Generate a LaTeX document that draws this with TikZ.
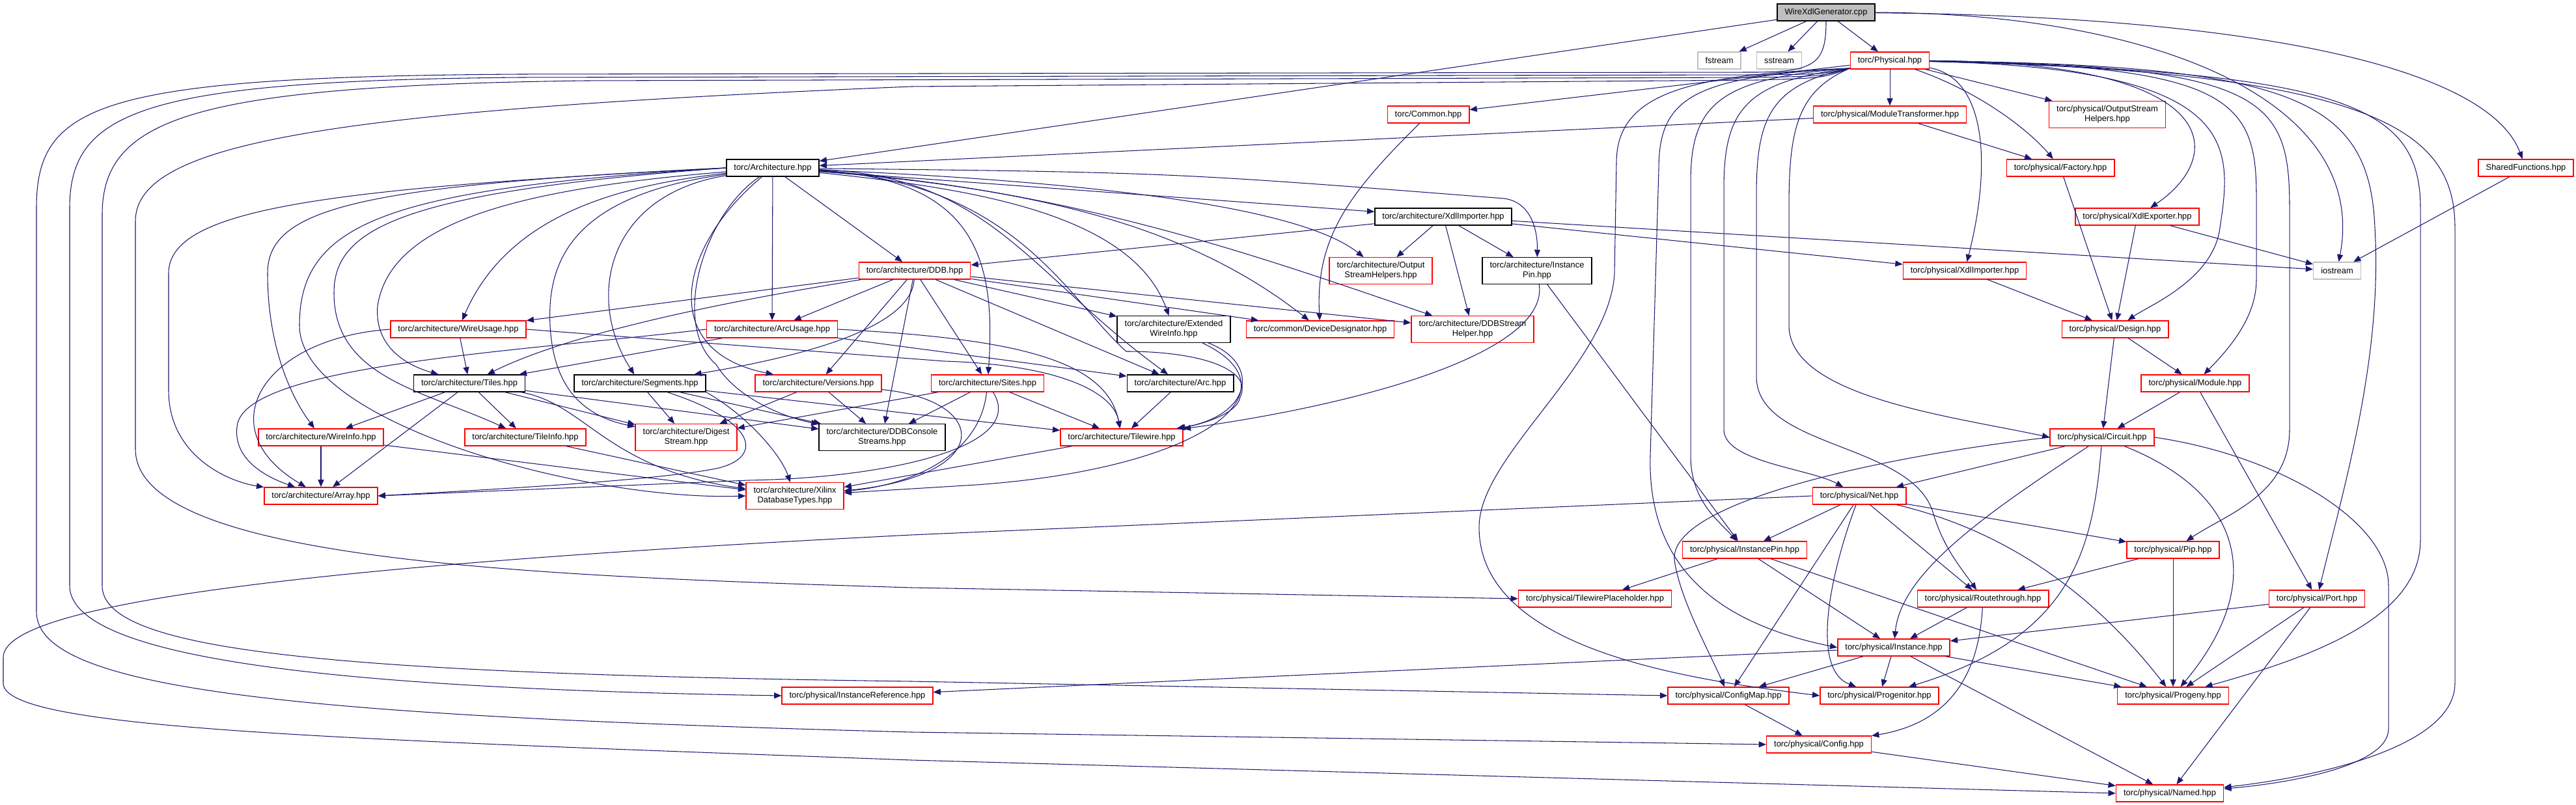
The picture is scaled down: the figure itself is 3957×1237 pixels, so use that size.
\documentclass[tikz,border=0pt]{standalone}
\usepackage{fontspec}
\setmainfont{Liberation Sans}
\usetikzlibrary{arrows.meta}
\definecolor{edgeblue}{RGB}{25,25,112}
\definecolor{rootgray}{RGB}{191,191,191}
\definecolor{sysgray}{RGB}{191,191,191}

\begin{document}
\begin{tikzpicture}[x=0.01cm, y=-0.01cm,
      nd/.style={draw, line width=0.4pt, fill=white, align=center,
        font=\fontsize{3.67pt}{4.3pt}\selectfont,
        inner xsep=0.115cm, inner ysep=1.9pt, minimum height=0.26cm},
      ndred/.style={nd, draw=red},
      ndblk/.style={nd, draw=black},
      ndsys/.style={nd, draw=sysgray},
      arr/.style={-{Triangle[length=3.2pt,width=2.6pt]}, draw=edgeblue, line width=0.3pt}
    ]
      \useasboundingbox (0,0) rectangle (3957,1237);
      % top row
      \node[ndblk, fill=rootgray] (wxg) at (2805,19) {WireXdlGenerator.cpp};
      \node[ndsys] (fstream) at (2641,93) {fstream};
      \node[ndsys] (sstream) at (2733,93) {sstream};
      \node[ndred] (phys) at (2903,93) {torc/Physical.hpp};
      \node[ndred] (common) at (2194,176) {torc/Common.hpp};
      \node[ndred] (modtr) at (2903,176) {torc/physical/ModuleTransformer.hpp};
      \node[ndred] (outhP) at (3237,176) {torc/physical/OutputStream\\Helpers.hpp};
      \node[ndblk] (arch) at (1187,258) {torc/Architecture.hpp};
      \node[ndred] (factory) at (3165,258) {torc/physical/Factory.hpp};
      \node[ndred] (sharedf) at (3880,258) {SharedFunctions.hpp};
      \node[ndblk] (xdlimpA) at (2217,333) {torc/architecture/XdlImporter.hpp};
      \node[ndred] (xdlexp) at (3283,333) {torc/physical/XdlExporter.hpp};
      \node[ndred] (ddb) at (1405,416) {torc/architecture/DDB.hpp};
      \node[ndred] (outhA) at (2121,416) {torc/architecture/Output\\StreamHelpers.hpp};
      \node[ndblk] (instpinA) at (2361,416) {torc/architecture/Instance\\Pin.hpp};
      \node[ndred] (xdlimpP) at (3018,416) {torc/physical/XdlImporter.hpp};
      \node[ndsys] (iostream) at (3590,416) {iostream};
      % architecture side
      \node[ndred] (wireusage) at (704,506) {torc/architecture/WireUsage.hpp};
      \node[ndred] (arcusage) at (1186,506) {torc/architecture/ArcUsage.hpp};
      \node[ndblk] (extwi) at (1803,506) {torc/architecture/Extended\\WireInfo.hpp};
      \node[ndred] (devdes) at (2028,506) {torc/common/DeviceDesignator.hpp};
      \node[ndred] (ddbsh) at (2262,506) {torc/architecture/DDBStream\\Helper.hpp};
      \node[ndblk] (tiles) at (721,589) {torc/architecture/Tiles.hpp};
      \node[ndblk] (segments) at (983,589) {torc/architecture/Segments.hpp};
      \node[ndred] (versions) at (1257,589) {torc/architecture/Versions.hpp};
      \node[ndred] (sites) at (1517,589) {torc/architecture/Sites.hpp};
      \node[ndblk] (arc) at (1813,589) {torc/architecture/Arc.hpp};
      \node[ndred] (wireinfo) at (493,672) {torc/architecture/WireInfo.hpp};
      \node[ndred] (tileinfo) at (807,672) {torc/architecture/TileInfo.hpp};
      \node[ndred] (digest) at (1054,672) {torc/architecture/Digest\\Stream.hpp};
      \node[ndblk] (ddbcs) at (1355,672) {torc/architecture/DDBConsole\\Streams.hpp};
      \node[ndred] (tilewire) at (1723,672) {torc/architecture/Tilewire.hpp};
      \node[ndred] (array) at (493,762) {torc/architecture/Array.hpp};
      \node[ndred] (xilinx) at (1221,762) {torc/architecture/Xilinx\\DatabaseTypes.hpp};
      % physical side
      \node[ndred] (design) at (3249,506) {torc/physical/Design.hpp};
      \node[ndred] (module) at (3372,589) {torc/physical/Module.hpp};
      \node[ndred] (circuit) at (3229,672) {torc/physical/Circuit.hpp};
      \node[ndred] (net) at (2856,762) {torc/physical/Net.hpp};
      \node[ndred] (instpin) at (2680,845) {torc/physical/InstancePin.hpp};
      \node[ndred] (pip) at (3338,845) {torc/physical/Pip.hpp};
      \node[ndred] (twph) at (2450,920) {torc/physical/TilewirePlaceholder.hpp};
      \node[ndred] (routeth) at (3046,920) {torc/physical/Routethrough.hpp};
      \node[ndred] (port) at (3559,920) {torc/physical/Port.hpp};
      \node[ndred] (instance) at (2909,995) {torc/physical/Instance.hpp};
      \node[ndred] (instref) at (1317,1069) {torc/physical/InstanceReference.hpp};
      \node[ndred] (configmap) at (2655,1069) {torc/physical/ConfigMap.hpp};
      \node[ndred] (progenitor) at (2887,1069) {torc/physical/Progenitor.hpp};
      \node[ndred] (progeny) at (3338,1069) {torc/physical/Progeny.hpp};
      \node[ndred] (config) at (2794,1144) {torc/physical/Config.hpp};
      \node[ndred] (named) at (3333,1219) {torc/physical/Named.hpp};
      \coordinate (pw) at ([yshift=0.5pt]phys.south west);

      % WireXdlGenerator.cpp
      \draw[arr] (wxg) -- (arch);
      \draw[arr] (wxg) -- (fstream);
      \draw[arr] (wxg) -- (sstream);
      \draw[arr] (wxg) -- (phys);
      \draw[arr] (wxg) .. controls (3300,20) and (3640,150) .. (iostream);
      \draw[arr] (wxg) .. controls (3450,25) and (3820,100) .. (sharedf);
      \draw[arr] (wxg.south) .. controls (2805,95) and (2790,110) .. (2700,111) -- (800,114)
        .. controls (150,118) and (56,160) .. (56,320) -- (56,940)
        .. controls (56,1060) and (450,1100) .. (1400,1125) -- (config.west);

      % torc/Physical.hpp
      \draw[arr] (phys) -- (common);
      \draw[arr] (phys) -- (modtr);
      \draw[arr] (phys) -- (outhP);
      \draw[arr] (phys) .. controls (3057,147) and (3128,213) .. (factory);
      \draw[arr] (phys) .. controls (3050,120) and (3060,250) .. (xdlimpP);
      \draw[arr] (phys) .. controls (3420,95) and (3420,240) .. (xdlexp);
      \draw[arr] (phys) .. controls (3440,105) and (3430,220) .. (3410,350)
        .. controls (3400,430) and (3300,470) .. (design);
      \draw[arr] (phys) .. controls (3420,100) and (3466,150) .. (3466,300) -- (3466,430)
        .. controls (3466,490) and (3420,540) .. (module);
      \draw[arr] (phys) .. controls (3480,100) and (3517,150) .. (3517,320) -- (3517,660)
        .. controls (3517,760) and (3420,790) .. (pip);
      \draw[arr] (phys) .. controls (3520,100) and (3640,150) .. (3648,350)
        .. controls (3660,550) and (3600,750) .. (port);
      \draw[arr] (phys) .. controls (3600,110) and (3718,160) .. (3718,320) -- (3718,830)
        .. controls (3718,950) and (3550,1010) .. (progeny);
      \draw[arr] (phys) .. controls (3650,110) and (3771,200) .. (3771,350) -- (3771,1050)
        .. controls (3771,1150) and (3550,1195) .. (named);
      \draw[arr] (pw) .. controls (2600,115) and (2483,140) .. (2483,250) -- (2480,420)
        .. controls (2472,560) and (2272,700) .. (2272,810)
        .. controls (2272,1000) and (2600,1045) .. (progenitor.west);
      \draw[arr] (pw) .. controls (2600,118) and (2548,150) .. (2548,260) -- (2535,700)
        .. controls (2530,880) and (2650,960) .. (instance.west);
      \draw[arr] (pw) .. controls (2640,120) and (2597,160) .. (2597,280) -- (2597,700)
        .. controls (2597,770) and (2640,800) .. (instpin);
      \draw[arr] (pw) .. controls (2680,125) and (2648,170) .. (2648,290) -- (2648,660)
        .. controls (2648,710) and (2780,720) .. (net);
      \draw[arr] (pw) .. controls (2720,130) and (2698,180) .. (2698,300) -- (2698,580)
        .. controls (2700,690) and (2940,680) .. (2970,790)
        .. controls (2985,840) and (3010,870) .. (routeth);
      \draw[arr] (pw) .. controls (2760,140) and (2748,200) .. (2748,320) -- (2748,500)
        .. controls (2748,610) and (3000,640) .. (circuit.west);
      \draw[arr] (pw) .. controls (2800,114) .. (2700,115) -- (800,119)
        .. controls (220,124) and (107,170) .. (107,320) -- (107,900)
        .. controls (107,1010) and (500,1058) .. (instref.west);
      \draw[arr] (pw) .. controls (2800,117) .. (2700,119) -- (900,124)
        .. controls (300,132) and (157,180) .. (157,330) -- (157,900)
        .. controls (157,1000) and (500,1035) .. (1400,1047) -- (configmap.west);
      \draw[arr] (pw) .. controls (2800,120) .. (2700,123) -- (1400,133)
        .. controls (500,170) and (208,220) .. (208,340) -- (208,690)
        .. controls (208,860) and (800,885) .. (1400,903) -- (twph.west);

      % torc/Architecture.hpp
      \draw[arr] (arch) -- (ddb);
      \draw[arr] (arch) -- (xdlimpA);
      \draw[arr] (arch) -- (arcusage);
      \draw[arr] (arch) .. controls (1700,280) and (2000,320) .. (outhA);
      \draw[arr] (arch) .. controls (1800,265) .. (2310,305)
        .. controls (2350,310) and (2362,350) .. (instpinA);
      \draw[arr] (arch) .. controls (1600,290) and (1830,350) .. (devdes);
      \draw[arr] (arch) .. controls (1650,290) and (1950,400) .. (ddbsh);
      \draw[arr] (arch) .. controls (1500,290) and (1740,330) .. (extwi);
      \draw[arr] (arch) .. controls (1500,275) and (1530,400) .. (sites);
      \draw[arr] (arch) .. controls (1520,270) and (1580,420) .. (arc);
      \draw[arr] (arch) .. controls (1560,280) and (1640,460) .. (1730,540)
        .. controls (1850,540) and (1925,570) .. (1905,610)
        .. controls (1900,640) and (1830,655) .. (tilewire);
      \draw[arr] (arch) .. controls (950,285) and (780,330) .. (wireusage);
      \draw[arr] (arch) .. controls (800,290) and (600,340) .. (580,470)
        .. controls (575,530) and (620,560) .. (tiles);
      \draw[arr] (arch) .. controls (930,300) and (900,460) .. (segments);
      \draw[arr] (arch) .. controls (1040,380) and (1010,540) .. (versions);
      \draw[arr] (arch) .. controls (880,300) and (840,400) .. (845,500)
        .. controls (850,600) and (900,640) .. (digest);
      \draw[arr] (arch) .. controls (1080,330) and (1030,500) .. (1100,560)
        .. controls (1130,610) and (1200,640) .. (ddbcs);
      \draw[arr] (arch.west) .. controls (600,290) and (460,340) .. (460,500)
        .. controls (460,650) and (900,770) .. (xilinx.west);
      \draw[arr] (arch.west) .. controls (500,290) and (259,320) .. (259,420) -- (259,600)
        .. controls (259,700) and (350,740) .. (array);
      \draw[arr] (arch.west) .. controls (550,285) and (411,320) .. (411,420)
        .. controls (411,520) and (440,600) .. (wireinfo);
      \draw[arr] (arch.west) .. controls (620,295) and (513,350) .. (513,450)
        .. controls (513,580) and (650,600) .. (tileinfo);

      % torc/architecture
      \draw[arr] (xdlimpA) -- (ddb);
      \draw[arr] (xdlimpA) -- (outhA);
      \draw[arr] (xdlimpA) -- (instpinA);
      \draw[arr] (xdlimpA) -- (ddbsh);
      \draw[arr] (xdlimpA) -- (xdlimpP);
      \draw[arr] (xdlimpA) -- (iostream);
      \draw[arr] (instpinA) .. controls (2380,540) and (2100,620) .. (tilewire);
      \draw[arr] (instpinA) -- (instpin);
      \draw[arr] (common) .. controls (2080,290) and (2020,360) .. (devdes);
      \draw[arr] (ddb) -- (wireusage);
      \draw[arr] (ddb) -- (arcusage);
      \draw[arr] (ddb) .. controls (1200,450) and (900,500) .. (tiles);
      \draw[arr] (ddb) -- (versions);
      \draw[arr] (ddb) .. controls (1400,500) and (1250,545) .. (segments);
      \draw[arr] (ddb) -- (ddbcs);
      \draw[arr] (ddb) -- (sites);
      \draw[arr] (ddb) -- (arc);
      \draw[arr] (ddb) -- (extwi);
      \draw[arr] (ddb) -- (ddbsh);
      \draw[arr] (ddb) -- (devdes);
      \draw[arr] (wireusage) -- (tiles);
      \draw[arr] (wireusage.west) .. controls (400,520) and (320,660) .. (array);
      \draw[arr] (wireusage.east) -- (1450,555) .. controls (1620,560) and (1710,600) .. (tilewire);
      \draw[arr] (arcusage) -- (tiles);
      \draw[arr] (arcusage.west) .. controls (800,540) and (390,560) .. (365,650)
        .. controls (355,700) and (400,730) .. (array);
      \draw[arr] (arcusage) -- (arc);
      \draw[arr] (arcusage.east) .. controls (1550,520) and (1700,550) .. (tilewire);
      \draw[arr] (tiles) -- (wireinfo);
      \draw[arr] (tiles) -- (tileinfo);
      \draw[arr] (tiles) -- (array);
      \draw[arr] (tiles) -- (digest);
      \draw[arr] (tiles) -- (ddbcs);
      \draw[arr] (tiles) .. controls (900,620) and (930,720) .. (xilinx);
      \draw[arr] (segments) -- (digest);
      \draw[arr] (segments) -- (ddbcs);
      \draw[arr] (segments.south east) .. controls (1150,640) and (1200,700) .. (xilinx);
      \draw[arr] (segments) -- (tilewire);
      \draw[arr] (segments) .. controls (1170,650) and (1170,705) .. (1100,720)
        .. controls (1000,740) and (700,755) .. (array.east);
      \draw[arr] (versions) -- (digest);
      \draw[arr] (versions) -- (ddbcs);
      \draw[arr] (versions) .. controls (1520,615) and (1530,730) .. (xilinx);
      \draw[arr] (sites) -- (digest);
      \draw[arr] (sites) -- (ddbcs);
      \draw[arr] (sites) -- (tilewire);
      \draw[arr] (sites) .. controls (1505,700) and (1400,745) .. (xilinx);
      \draw[arr] (sites) .. controls (1580,690) and (1350,735) .. (1150,738) -- (array.east);
      \draw[arr] (arc) -- (tilewire);
      \draw[arr] (extwi) .. controls (1940,560) and (1920,640) .. (tilewire);
      \draw[arr] (extwi) .. controls (2000,600) and (1850,720) .. (1500,745) -- (xilinx);
      \draw[arr] (wireinfo) -- (array);
      \draw[arr] (wireinfo) -- (xilinx);
      \draw[arr] (tileinfo) -- (xilinx);
      \draw[arr] (tilewire) -- (xilinx);

      % torc/physical
      \draw[arr] (modtr) -- (factory);
      \draw[arr] (modtr) -- (arch);
      \draw[arr] (factory) -- (design);
      \draw[arr] (xdlexp) -- (design);
      \draw[arr] (xdlexp) -- (iostream);
      \draw[arr] (xdlimpP) -- (design);
      \draw[arr] (sharedf) -- (iostream);
      \draw[arr] (design) -- (module);
      \draw[arr] (design) -- (circuit);
      \draw[arr] (module) -- (circuit);
      \draw[arr] (module) -- (port);
      \draw[arr] (circuit) -- (net);
      \draw[arr] (circuit.west) .. controls (2900,700) and (2565,770) .. (2572,860)
        .. controls (2580,920) and (2625,1000) .. (configmap);
      \draw[arr] (circuit) .. controls (3050,790) and (2920,880) .. (instance);
      \draw[arr] (circuit) .. controls (3215,850) and (3180,980) .. (progenitor);
      \draw[arr] (circuit) .. controls (3450,760) and (3480,900) .. (progeny);
      \draw[arr] (circuit.east) .. controls (3500,700) and (3669,800) .. (3669,900) -- (3669,1120)
        .. controls (3669,1180) and (3500,1205) .. (named);
      \draw[arr] (net) -- (instpin);
      \draw[arr] (net) -- (configmap);
      \draw[arr] (net) .. controls (2805,900) and (2785,1030) .. (progenitor);
      \draw[arr] (net) -- (routeth);
      \draw[arr] (net) .. controls (3100,820) and (3230,930) .. (progeny);
      \draw[arr] (net) -- (pip);
      \draw[arr] (net.west) -- (1400,822) .. controls (450,870) and (5,930) .. (5,1010) -- (5,1050)
        .. controls (5,1120) and (500,1135) .. (1400,1168) -- (named.west);
      \draw[arr] (instpin) -- (twph);
      \draw[arr] (instpin) -- (instance);
      \draw[arr] (instpin) -- (progeny);
      \draw[arr] (routeth) -- (instance);
      \draw[arr] (routeth) .. controls (3040,1030) and (3000,1110) .. (config);
      \draw[arr] (pip) -- (routeth);
      \draw[arr] (pip) -- (progeny);
      \draw[arr] (port) -- (instance);
      \draw[arr] (port) -- (progeny);
      \draw[arr] (port) -- (named);
      \draw[arr] (instance) -- (instref);
      \draw[arr] (instance) -- (configmap);
      \draw[arr] (instance) -- (progenitor);
      \draw[arr] (instance) -- (progeny);
      \draw[arr] (instance) -- (named);
      \draw[arr] (configmap) -- (config);
      \draw[arr] (config) -- (named);
    \end{tikzpicture}
\end{document}
